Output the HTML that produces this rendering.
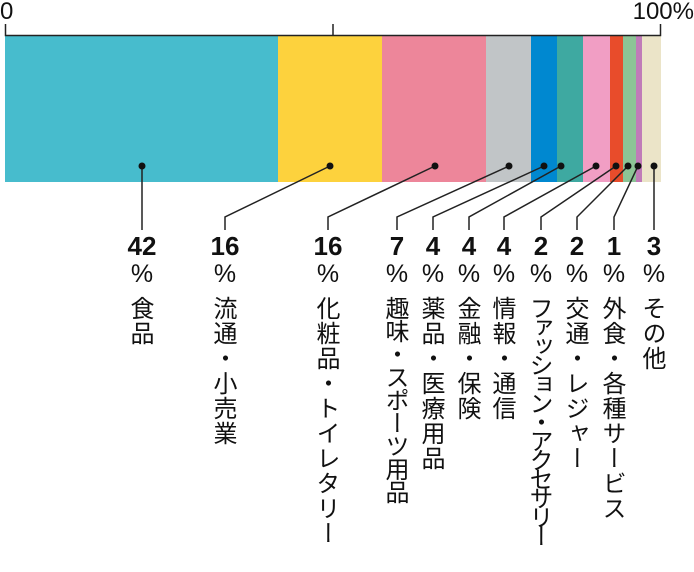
<!DOCTYPE html>
<html><head><meta charset="utf-8"><style>
body{margin:0;width:694px;height:572px;background:#fff;position:relative;overflow:hidden;font-family:"Liberation Sans","Noto Sans CJK JP",sans-serif;color:#111}
.s{position:absolute;top:35px;height:147px}
.lab{position:absolute;top:232px;width:60px;margin-left:-30px;text-align:center}
.n{font-weight:bold;font-size:26px;line-height:28px}
.p{font-size:25px;line-height:28px}
.v{writing-mode:vertical-rl;font-size:24px;line-height:26px;margin:8px auto 0;letter-spacing:1px;font-family:"Noto Sans CJK JP",sans-serif}
</style></head><body>
<div style="position:absolute;left:0;top:-2px;font-size:24px">0</div>
<div style="position:absolute;right:0;top:-2px;font-size:24px">100%</div>
<div class="s" style="left:5px;width:273px;background:#47bccd"></div>
<div class="s" style="left:278px;width:104px;background:#fdd23d"></div>
<div class="s" style="left:382px;width:104px;background:#ed869a"></div>
<div class="s" style="left:486px;width:45px;background:#c1c5c7"></div>
<div class="s" style="left:531px;width:26px;background:#0088d0"></div>
<div class="s" style="left:557px;width:26px;background:#3ea9a1"></div>
<div class="s" style="left:583px;width:27px;background:#f19ec4"></div>
<div class="s" style="left:610px;width:13px;background:#e84c2b"></div>
<div class="s" style="left:623px;width:13px;background:#8cc496"></div>
<div class="s" style="left:636px;width:6px;background:#c07bb8"></div>
<div class="s" style="left:642px;width:19px;background:#ebe4c8"></div>
<svg width="694" height="572" style="position:absolute;left:0;top:0">
<g stroke="#222" stroke-width="1.5" fill="none">
<path d="M5.5 24V35.5H660.5V24M333 24V35"/>
<path d="M142 166V230M330 166L225 217V230M435 166L328 217V230M509 166L397 217V230M544 166L433 217V230M561 166L469 217V230M596 166L504 217V230M616 166L541 217V230M628 166L577 217V230M638 166L614 217V230M654 166V230"/>
</g>
<g fill="#111">
<circle cx="142" cy="166" r="3.5"/><circle cx="330" cy="166" r="3.5"/><circle cx="435" cy="166" r="3.5"/><circle cx="509" cy="166" r="3.5"/><circle cx="544" cy="166" r="3.5"/><circle cx="561" cy="166" r="3.5"/><circle cx="596" cy="166" r="3.5"/><circle cx="616" cy="166" r="3.5"/><circle cx="628" cy="166" r="3.5"/><circle cx="638" cy="166" r="3.5"/><circle cx="654" cy="166" r="3.5"/>
</g></svg>
<div class="lab" style="left:142px"><div class="n">42</div><div class="p">%</div><div class="v">食品</div></div>
<div class="lab" style="left:225px"><div class="n">16</div><div class="p">%</div><div class="v">流通・小売業</div></div>
<div class="lab" style="left:328px"><div class="n">16</div><div class="p">%</div><div class="v">化粧品・トイレタリー</div></div>
<div class="lab" style="left:397px"><div class="n">7</div><div class="p">%</div><div class="v" style="letter-spacing:-1px">趣味・スポーツ用品</div></div>
<div class="lab" style="left:433px"><div class="n">4</div><div class="p">%</div><div class="v">薬品・医療用品</div></div>
<div class="lab" style="left:469px"><div class="n">4</div><div class="p">%</div><div class="v">金融・保険</div></div>
<div class="lab" style="left:504px"><div class="n">4</div><div class="p">%</div><div class="v">情報・通信</div></div>
<div class="lab" style="left:541px"><div class="n">2</div><div class="p">%</div><div class="v" style="letter-spacing:-5px">ファッション・アクセサリー</div></div>
<div class="lab" style="left:577px"><div class="n">2</div><div class="p">%</div><div class="v">交通・レジャー</div></div>
<div class="lab" style="left:614px"><div class="n">1</div><div class="p">%</div><div class="v">外食・各種サービス</div></div>
<div class="lab" style="left:654px"><div class="n">3</div><div class="p">%</div><div class="v">その他</div></div>
</body></html>
